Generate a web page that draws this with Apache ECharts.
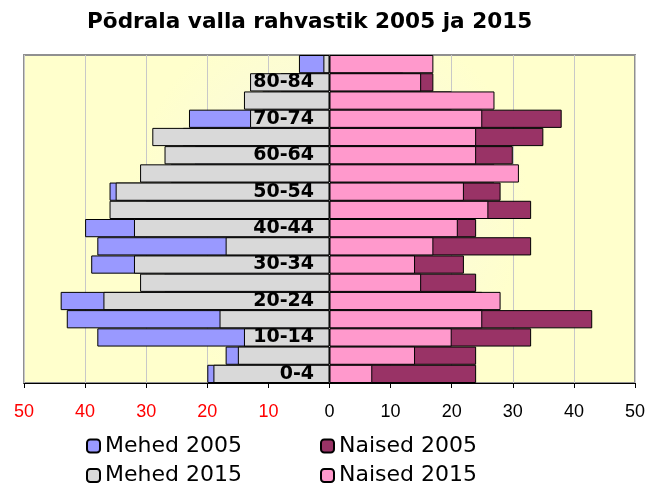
<!DOCTYPE html>
<html>
<head>
<meta charset="utf-8">
<script src="https://cdn.jsdelivr.net/npm/echarts@6/dist/echarts.min.js"></script>
<style>
  html, body { margin: 0; padding: 0; background: #fff; }
  #chart { width: 648px; height: 487px; }
</style>
</head>
<body>
<div id="chart"></div>
<script>
// age groups, bottom to top
var ageGroups = ['0-4', '5-9', '10-14', '15-19', '20-24', '25-29', '30-34', '35-39', '40-44',
  '45-49', '50-54', '55-59', '60-64', '65-69', '70-74', '75-79', '80-84', '85+']

// men are drawn to the left (negated below)
var mehed2005 = [20, 17, 38, 43, 44, 27, 39, 38, 40, 30, 36, 26, 22, 24, 23, 11, 8, 5]
var mehed2015 = [19, 15, 14, 18, 37, 31, 32, 17, 32, 36, 35, 31, 27, 29, 13, 14, 13, 1]
var naised2005 = [24, 24, 33, 43, 25, 24, 22, 33, 24, 33, 28, 27, 30, 35, 38, 20, 17, 12]
var naised2015 = [7, 14, 20, 25, 28, 15, 14, 17, 21, 26, 22, 31, 24, 24, 25, 27, 15, 17]

var xTicks = [-50, -40, -30, -20, -10, 0, 10, 20, 30, 40, 50]

var chart = echarts.init(document.getElementById('chart'))

function neg (arr) {
  return arr.map(function (v) { return -v })
}

function barSeries (name, data, color) {
  return {
    name: name,
    type: 'bar',
    data: data,
    barGap: '-100%',
    barCategoryGap: '0%',
    itemStyle: { color: color, borderColor: '#000', borderWidth: 1 }
  }
}

var legendText = { fontFamily: 'DejaVu Sans', fontSize: 22, color: '#000', lineHeight: 22 }

var option = {
  backgroundColor: '#fff',
  animation: false,
  title: {
    text: 'Põdrala valla rahvastik 2005 ja 2015',
    left: 82,
    top: 6,
    textStyle: { fontFamily: 'DejaVu Sans', fontWeight: 'bold', fontSize: 21.6, color: '#000' }
  },
  legend: [{
    orient: 'vertical',
    left: 86,
    top: 435,
    padding: 0,
    itemWidth: 13,
    itemHeight: 13,
    itemGap: 7.5,
    data: ['Mehed 2005', 'Mehed 2015'],
    textStyle: legendText
  }, {
    orient: 'vertical',
    left: 320,
    top: 435,
    padding: 0,
    itemWidth: 13,
    itemHeight: 13,
    itemGap: 7.5,
    data: ['Naised 2005', 'Naised 2015'],
    textStyle: legendText
  }],
  grid: {
    left: 24,
    right: 13,
    top: 55,
    bottom: 104,
    outerBoundsMode: 'none',
    show: true,
    borderColor: '#909090',
    borderWidth: 2,
    backgroundColor: new echarts.graphic.RadialGradient(0.5, 0.45, 0.6, [
      { offset: 0, color: '#F6F6E6' },
      { offset: 1, color: '#FFFFCC' }
    ])
  },
  xAxis: {
    type: 'value',
    min: xTicks[0],
    max: xTicks[xTicks.length - 1],
    interval: 10,
    axisLine: { show: true, lineStyle: { color: '#000', width: 1 } },
    axisTick: { show: true, length: 5, lineStyle: { color: '#000' } },
    splitLine: { show: true, lineStyle: { color: '#C8C8C8', width: 1 } },
    axisLabel: {
      margin: 20,
      fontFamily: 'Liberation Sans',
      fontSize: 18,
      formatter: function (v) { return Math.abs(v) },
      color: function (v) { return Number(v) < 0 ? '#FF0000' : '#000' }
    }
  },
  yAxis: {
    type: 'category',
    data: ageGroups,
    z: 10,
    // shift the label column from the left edge to the zero line
    offset: -306,
    axisLine: { show: false },
    axisTick: { show: false },
    splitLine: { show: false },
    axisLabel: {
      interval: 1,
      margin: 16,
      fontFamily: 'DejaVu Sans',
      fontWeight: 'bold',
      fontSize: 19,
      color: '#000'
    }
  },
  series: [
    barSeries('Mehed 2005', neg(mehed2005), '#9999FF'),
    barSeries('Naised 2005', naised2005, '#993366'),
    barSeries('Mehed 2015', neg(mehed2015), '#D9D9D9'),
    barSeries('Naised 2015', naised2015, '#FF99CC')
  ]
}

chart.setOption(option)
</script>
</body>
</html>
